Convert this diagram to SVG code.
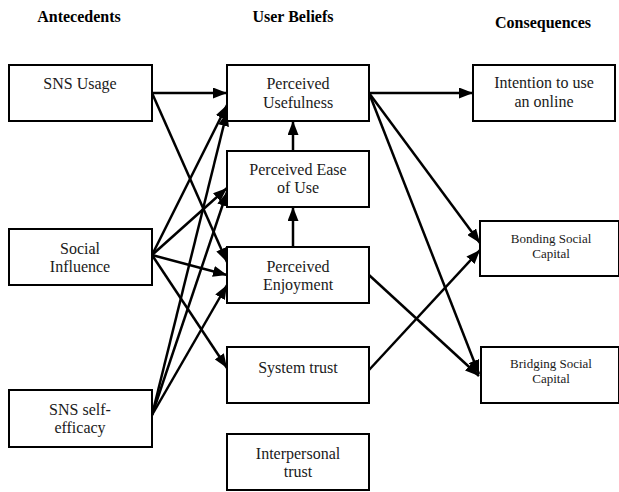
<svg xmlns="http://www.w3.org/2000/svg" width="619" height="492" viewBox="0 0 619 492">
<style>
.box{fill:#fff;stroke:#000;stroke-width:2}
.t{font-family:"Liberation Serif","Times New Roman",serif;font-size:16px;fill:#1a1a1a;text-anchor:middle}
.s{font-size:13px}
.h{font-family:"Liberation Serif","Times New Roman",serif;font-size:16px;font-weight:bold;fill:#000;text-anchor:middle}
.c{stroke:#000;stroke-width:2.5;fill:none;marker-end:url(#ah)}
</style>
<defs>
<marker id="ah" markerUnits="userSpaceOnUse" markerWidth="14" markerHeight="11" refX="14" refY="5.5" orient="auto">
<path d="M0,0 L14,5.5 L0,11 z" fill="#000"/>
</marker>
</defs>
<rect width="619" height="492" fill="#fff"/>
<g id="headers">
<text class="h" x="79" y="22">Antecedents</text>
<text class="h" x="293" y="22">User Beliefs</text>
<text class="h" x="543" y="28">Consequences</text>
</g>
<g id="connectors">
<line class="c" x1="152" y1="93" x2="227" y2="93"/>
<line class="c" x1="152" y1="93" x2="227" y2="262"/>
<line class="c" x1="152" y1="255" x2="227" y2="105"/>
<line class="c" x1="152" y1="255" x2="227" y2="188"/>
<line class="c" x1="152" y1="255" x2="227" y2="275"/>
<line class="c" x1="152" y1="255" x2="227" y2="368"/>
<line class="c" x1="152" y1="415" x2="227" y2="112"/>
<line class="c" x1="152" y1="415" x2="227" y2="192"/>
<line class="c" x1="152" y1="415" x2="227" y2="285"/>
<line class="c" x1="293" y1="247" x2="293" y2="207"/>
<line class="c" x1="293" y1="151" x2="293" y2="121"/>
<line class="c" x1="369" y1="93" x2="473" y2="93"/>
<line class="c" x1="369" y1="93" x2="480" y2="243"/>
<line class="c" x1="369" y1="93" x2="479" y2="374"/>
<line class="c" x1="369" y1="275" x2="479" y2="376"/>
<line class="c" x1="369" y1="370" x2="480" y2="250"/>
</g>
<g id="sns-usage"><rect class="box" x="9" y="65" width="143" height="56"/><text class="t" x="80" y="89">SNS Usage</text></g>
<g id="social-influence"><rect class="box" x="9" y="229" width="143" height="56"/><text class="t" x="80" y="254">Social</text><text class="t" x="80" y="272">Influence</text></g>
<g id="sns-self-efficacy"><rect class="box" x="9" y="390" width="143" height="57"/><text class="t" x="80" y="415">SNS self-</text><text class="t" x="80" y="433">efficacy</text></g>
<g id="perceived-usefulness"><rect class="box" x="227" y="65" width="142" height="56"/><text class="t" x="298" y="89">Perceived</text><text class="t" x="298" y="108">Usefulness</text></g>
<g id="perceived-ease"><rect class="box" x="227" y="151" width="142" height="56"/><text class="t" x="298" y="175">Perceived Ease</text><text class="t" x="298" y="193">of Use</text></g>
<g id="perceived-enjoyment"><rect class="box" x="227" y="247" width="142" height="56"/><text class="t" x="298" y="272">Perceived</text><text class="t" x="298" y="290">Enjoyment</text></g>
<g id="system-trust"><rect class="box" x="227" y="347" width="142" height="56"/><text class="t" x="298" y="373">System trust</text></g>
<g id="interpersonal-trust"><rect class="box" x="227" y="434" width="142" height="56"/><text class="t" x="298" y="459">Interpersonal</text><text class="t" x="298" y="477">trust</text></g>
<g id="intention"><rect class="box" x="473" y="65" width="142" height="56"/><text class="t" x="544" y="88">Intention to use</text><text class="t" x="544" y="107">an online</text></g>
<g id="bonding"><rect class="box" x="480" y="221" width="139" height="55"/><text class="t s" x="551" y="243">Bonding Social</text><text class="t s" x="551" y="258">Capital</text></g>
<g id="bridging"><rect class="box" x="481" y="347" width="138" height="56"/><text class="t s" x="551" y="368">Bridging Social</text><text class="t s" x="551" y="383">Capital</text></g>
</svg>
